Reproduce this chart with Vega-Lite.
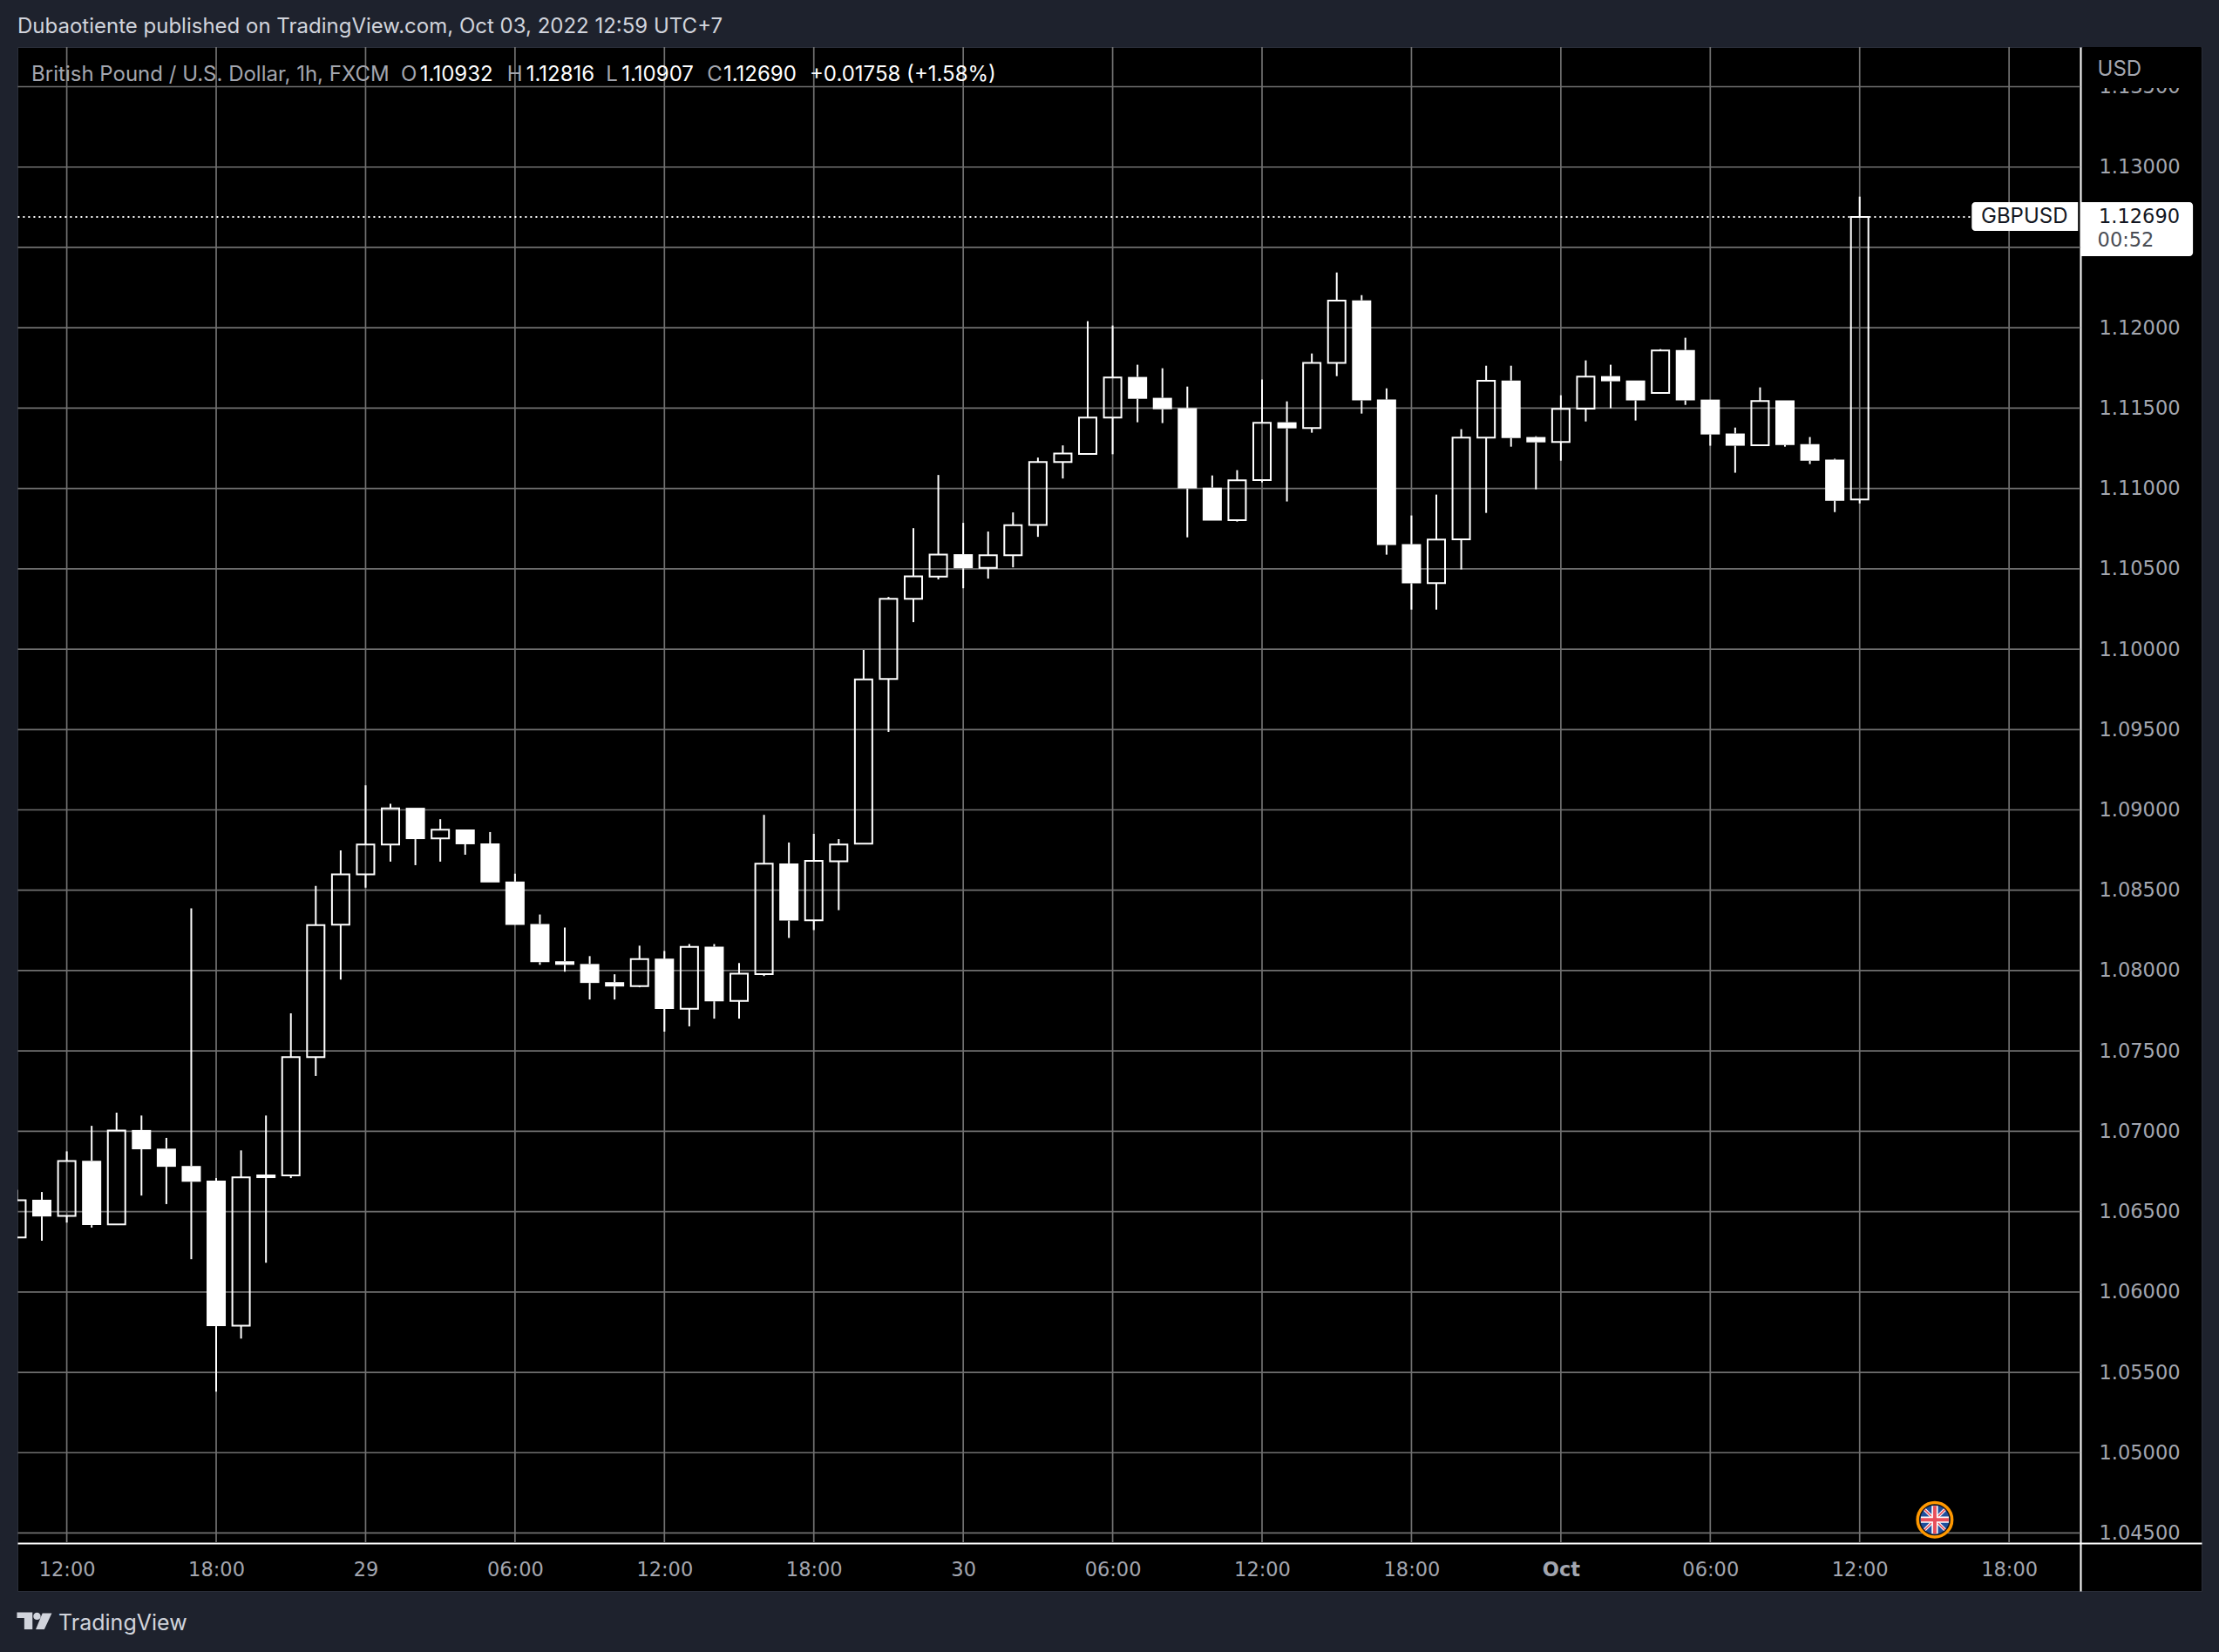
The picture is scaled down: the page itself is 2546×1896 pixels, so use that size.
{"$schema":"https://vega.github.io/schema/vega-lite/v6.json","width":2506,"height":1772,"autosize":"none","padding":{"left":20,"top":54,"right":20,"bottom":70},"background":"#1e222d","title":{"text":"Dubaotiente published on TradingView.com, Oct 03, 2022 12:59 UTC+7","anchor":"start","frame":"group","font":"Inter","fontSize":24,"fontWeight":400,"color":"#d1d4dc","offset":10},"config":{"view":{"fill":"#000000","stroke":"#2a2e39"},"font":"Inter"},"datasets":{"candles":[
{"t":"2022-09-28T10:00:00Z","open":1.06339,"high":1.06636,"low":1.06339,"close":1.06571},
{"t":"2022-09-28T11:00:00Z","open":1.06574,"high":1.06622,"low":1.06319,"close":1.0647},
{"t":"2022-09-28T12:00:00Z","open":1.06474,"high":1.06875,"low":1.06432,"close":1.06815},
{"t":"2022-09-28T13:00:00Z","open":1.06817,"high":1.07034,"low":1.06401,"close":1.06416},
{"t":"2022-09-28T14:00:00Z","open":1.06421,"high":1.07116,"low":1.0642,"close":1.07005},
{"t":"2022-09-28T15:00:00Z","open":1.07008,"high":1.07098,"low":1.066,"close":1.06888},
{"t":"2022-09-28T16:00:00Z","open":1.06892,"high":1.06959,"low":1.06547,"close":1.06779},
{"t":"2022-09-28T17:00:00Z","open":1.06784,"high":1.08387,"low":1.06204,"close":1.06686},
{"t":"2022-09-28T18:00:00Z","open":1.06693,"high":1.06709,"low":1.0538,"close":1.05787},
{"t":"2022-09-28T19:00:00Z","open":1.0579,"high":1.06881,"low":1.0571,"close":1.06713},
{"t":"2022-09-28T20:00:00Z","open":1.06731,"high":1.07098,"low":1.06182,"close":1.06709},
{"t":"2022-09-28T21:00:00Z","open":1.06726,"high":1.07734,"low":1.06709,"close":1.07462},
{"t":"2022-09-28T22:00:00Z","open":1.07462,"high":1.08527,"low":1.07344,"close":1.08283},
{"t":"2022-09-28T23:00:00Z","open":1.08286,"high":1.08748,"low":1.07944,"close":1.08599},
{"t":"2022-09-29T00:00:00Z","open":1.08599,"high":1.09153,"low":1.08516,"close":1.08784},
{"t":"2022-09-29T01:00:00Z","open":1.08784,"high":1.09038,"low":1.08678,"close":1.09009},
{"t":"2022-09-29T02:00:00Z","open":1.09013,"high":1.09013,"low":1.08656,"close":1.08818},
{"t":"2022-09-29T03:00:00Z","open":1.08822,"high":1.08942,"low":1.08678,"close":1.08876},
{"t":"2022-09-29T04:00:00Z","open":1.08878,"high":1.08878,"low":1.08721,"close":1.08786},
{"t":"2022-09-29T05:00:00Z","open":1.08791,"high":1.08862,"low":1.08549,"close":1.08549},
{"t":"2022-09-29T06:00:00Z","open":1.08554,"high":1.08603,"low":1.08284,"close":1.08284},
{"t":"2022-09-29T07:00:00Z","open":1.0829,"high":1.08349,"low":1.08036,"close":1.08052},
{"t":"2022-09-29T08:00:00Z","open":1.08058,"high":1.08268,"low":1.07993,"close":1.08036},
{"t":"2022-09-29T09:00:00Z","open":1.08041,"high":1.0809,"low":1.0782,"close":1.07923},
{"t":"2022-09-29T10:00:00Z","open":1.07928,"high":1.07977,"low":1.0782,"close":1.07901},
{"t":"2022-09-29T11:00:00Z","open":1.07903,"high":1.08155,"low":1.07896,"close":1.08072},
{"t":"2022-09-29T12:00:00Z","open":1.08074,"high":1.08122,"low":1.0762,"close":1.07761},
{"t":"2022-09-29T13:00:00Z","open":1.07763,"high":1.08165,"low":1.07653,"close":1.08147},
{"t":"2022-09-29T14:00:00Z","open":1.08149,"high":1.08165,"low":1.07701,"close":1.07809},
{"t":"2022-09-29T15:00:00Z","open":1.07811,"high":1.08047,"low":1.07701,"close":1.0798},
{"t":"2022-09-29T16:00:00Z","open":1.07978,"high":1.08969,"low":1.07966,"close":1.08665},
{"t":"2022-09-29T17:00:00Z","open":1.08667,"high":1.08797,"low":1.08203,"close":1.08311},
{"t":"2022-09-29T18:00:00Z","open":1.08313,"high":1.08851,"low":1.08252,"close":1.08683},
{"t":"2022-09-29T19:00:00Z","open":1.0868,"high":1.08818,"low":1.08376,"close":1.08784},
{"t":"2022-09-29T20:00:00Z","open":1.0879,"high":1.09995,"low":1.0879,"close":1.09812},
{"t":"2022-09-29T21:00:00Z","open":1.09814,"high":1.10325,"low":1.09485,"close":1.10313},
{"t":"2022-09-29T22:00:00Z","open":1.10313,"high":1.10753,"low":1.10168,"close":1.10453},
{"t":"2022-09-29T23:00:00Z","open":1.10452,"high":1.11084,"low":1.10434,"close":1.10589},
{"t":"2022-09-30T00:00:00Z","open":1.10591,"high":1.10786,"low":1.10379,"close":1.10504},
{"t":"2022-09-30T01:00:00Z","open":1.10506,"high":1.10732,"low":1.10439,"close":1.10584},
{"t":"2022-09-30T02:00:00Z","open":1.10584,"high":1.10851,"low":1.10509,"close":1.10771},
{"t":"2022-09-30T03:00:00Z","open":1.10773,"high":1.11192,"low":1.10699,"close":1.11164},
{"t":"2022-09-30T04:00:00Z","open":1.11164,"high":1.11268,"low":1.11062,"close":1.11218},
{"t":"2022-09-30T05:00:00Z","open":1.11215,"high":1.12041,"low":1.11215,"close":1.11441},
{"t":"2022-09-30T06:00:00Z","open":1.11441,"high":1.12014,"low":1.11213,"close":1.1169},
{"t":"2022-09-30T07:00:00Z","open":1.11694,"high":1.1177,"low":1.11412,"close":1.11558},
{"t":"2022-09-30T08:00:00Z","open":1.11564,"high":1.11748,"low":1.11407,"close":1.11493},
{"t":"2022-09-30T09:00:00Z","open":1.11499,"high":1.11634,"low":1.10696,"close":1.11},
{"t":"2022-09-30T10:00:00Z","open":1.11005,"high":1.11081,"low":1.108,"close":1.108},
{"t":"2022-09-30T11:00:00Z","open":1.10803,"high":1.11114,"low":1.10794,"close":1.11051},
{"t":"2022-09-30T12:00:00Z","open":1.11052,"high":1.11678,"low":1.11038,"close":1.11408},
{"t":"2022-09-30T13:00:00Z","open":1.11412,"high":1.11542,"low":1.10919,"close":1.11374},
{"t":"2022-09-30T14:00:00Z","open":1.11376,"high":1.1184,"low":1.11347,"close":1.11782},
{"t":"2022-09-30T15:00:00Z","open":1.11782,"high":1.12344,"low":1.11699,"close":1.12169},
{"t":"2022-09-30T16:00:00Z","open":1.12171,"high":1.12203,"low":1.11466,"close":1.11548},
{"t":"2022-09-30T17:00:00Z","open":1.11553,"high":1.11623,"low":1.10588,"close":1.10648},
{"t":"2022-09-30T18:00:00Z","open":1.10653,"high":1.10832,"low":1.10246,"close":1.10409},
{"t":"2022-09-30T19:00:00Z","open":1.10411,"high":1.10962,"low":1.10246,"close":1.10682},
{"t":"2022-09-30T20:00:00Z","open":1.10684,"high":1.11369,"low":1.10496,"close":1.11316},
{"t":"2022-09-30T21:00:00Z","open":1.11316,"high":1.11764,"low":1.10848,"close":1.1167},
{"t":"2022-09-30T22:00:00Z","open":1.11672,"high":1.11764,"low":1.1126,"close":1.11314},
{"t":"2022-09-30T23:00:00Z","open":1.1132,"high":1.11325,"low":1.10995,"close":1.11287},
{"t":"2022-10-01T00:00:00Z","open":1.11289,"high":1.1158,"low":1.11173,"close":1.11495},
{"t":"2022-10-01T01:00:00Z","open":1.11497,"high":1.11797,"low":1.11417,"close":1.11696},
{"t":"2022-10-01T02:00:00Z","open":1.11699,"high":1.1177,"low":1.11499,"close":1.11667},
{"t":"2022-10-01T03:00:00Z","open":1.11672,"high":1.11672,"low":1.11423,"close":1.11548},
{"t":"2022-10-01T04:00:00Z","open":1.11595,"high":1.11867,"low":1.11595,"close":1.11858},
{"t":"2022-10-01T05:00:00Z","open":1.11862,"high":1.11938,"low":1.1152,"close":1.11548},
{"t":"2022-10-01T06:00:00Z","open":1.11553,"high":1.11553,"low":1.11266,"close":1.11336},
{"t":"2022-10-01T07:00:00Z","open":1.11342,"high":1.11379,"low":1.11098,"close":1.11266},
{"t":"2022-10-01T08:00:00Z","open":1.11269,"high":1.11629,"low":1.11269,"close":1.11544},
{"t":"2022-10-01T09:00:00Z","open":1.11548,"high":1.11548,"low":1.1126,"close":1.11271},
{"t":"2022-10-01T10:00:00Z","open":1.11276,"high":1.1132,"low":1.11152,"close":1.11173},
{"t":"2022-10-01T11:00:00Z","open":1.11179,"high":1.11185,"low":1.10853,"close":1.10924},
{"t":"2022-10-01T12:00:00Z","open":1.10932,"high":1.12816,"low":1.10907,"close":1.1269}
]},
"encoding":{"x":{"field":"t","type":"temporal","title":null,"scale":{"type":"utc","nice":false,"padding":0,"domain":[1664359268400,1664675028000]},"axis":{"orient":"bottom","offset":-55,"values":[1664366400000,1664388000000,1664409600000,1664431200000,1664452800000,1664474400000,1664496000000,1664517600000,1664539200000,1664560800000,1664582400000,1664604000000,1664625600000,1664647200000],"grid":false,"ticks":false,"domain":true,"domainColor":"#ffffff","domainWidth":2,"labelFont":"DejaVu Sans","labelFontSize":22.5,"labelColor":"#a3a6af","labelPadding":19,"labelFlush":false,"labelOverlap":false,"labelExpr":"utchours(datum.value)==0 ? (utcdate(datum.value)==1 ? 'Oct' : utcFormat(datum.value,'%-d')) : utcFormat(datum.value,'%H:%M')","labelFontWeight":{"expr":"utcdate(datum.value)==1 && utchours(datum.value)==0 ? 700 : 400"}}},
"y":{"field":"p","type":"quantitative","title":null,"scale":{"domain":[1.041393,1.137468],"nice":false,"zero":false},"axis":{"orient":"right","offset":-139,"values":[1.045,1.05,1.055,1.06,1.065,1.07,1.075,1.08,1.085,1.09,1.095,1.1,1.105,1.11,1.115,1.12,1.125,1.13,1.135],"format":".5f","grid":false,"ticks":false,"domain":true,"domainColor":"#ffffff","domainWidth":2,"labelFont":"DejaVu Sans","labelFontSize":22.5,"labelColor":"#a3a6af","labelPadding":21,"labelAlign":"left","labelBound":false,"labelOverlap":false}}},
"layer":[
{"data":{"values":[{"t":"2022-09-28T10:02:00Z","t2":"2022-10-01T20:52:00Z","p":1.045},{"t":"2022-09-28T10:02:00Z","t2":"2022-10-01T20:52:00Z","p":1.05},{"t":"2022-09-28T10:02:00Z","t2":"2022-10-01T20:52:00Z","p":1.055},{"t":"2022-09-28T10:02:00Z","t2":"2022-10-01T20:52:00Z","p":1.06},{"t":"2022-09-28T10:02:00Z","t2":"2022-10-01T20:52:00Z","p":1.065},{"t":"2022-09-28T10:02:00Z","t2":"2022-10-01T20:52:00Z","p":1.07},{"t":"2022-09-28T10:02:00Z","t2":"2022-10-01T20:52:00Z","p":1.075},{"t":"2022-09-28T10:02:00Z","t2":"2022-10-01T20:52:00Z","p":1.08},{"t":"2022-09-28T10:02:00Z","t2":"2022-10-01T20:52:00Z","p":1.085},{"t":"2022-09-28T10:02:00Z","t2":"2022-10-01T20:52:00Z","p":1.09},{"t":"2022-09-28T10:02:00Z","t2":"2022-10-01T20:52:00Z","p":1.095},{"t":"2022-09-28T10:02:00Z","t2":"2022-10-01T20:52:00Z","p":1.1},{"t":"2022-09-28T10:02:00Z","t2":"2022-10-01T20:52:00Z","p":1.105},{"t":"2022-09-28T10:02:00Z","t2":"2022-10-01T20:52:00Z","p":1.11},{"t":"2022-09-28T10:02:00Z","t2":"2022-10-01T20:52:00Z","p":1.115},{"t":"2022-09-28T10:02:00Z","t2":"2022-10-01T20:52:00Z","p":1.12},{"t":"2022-09-28T10:02:00Z","t2":"2022-10-01T20:52:00Z","p":1.125},{"t":"2022-09-28T10:02:00Z","t2":"2022-10-01T20:52:00Z","p":1.13},{"t":"2022-09-28T10:02:00Z","t2":"2022-10-01T20:52:00Z","p":1.135}]},"mark":{"type":"rule","stroke":"#707070","strokeWidth":1.7},"encoding":{"x2":{"field":"t2"}}},
{"data":{"values":[{"t":"2022-09-28T12:00:00Z","p":1.044376,"p2":1.137468},{"t":"2022-09-28T18:00:00Z","p":1.044376,"p2":1.137468},{"t":"2022-09-29T00:00:00Z","p":1.044376,"p2":1.137468},{"t":"2022-09-29T06:00:00Z","p":1.044376,"p2":1.137468},{"t":"2022-09-29T12:00:00Z","p":1.044376,"p2":1.137468},{"t":"2022-09-29T18:00:00Z","p":1.044376,"p2":1.137468},{"t":"2022-09-30T00:00:00Z","p":1.044376,"p2":1.137468},{"t":"2022-09-30T06:00:00Z","p":1.044376,"p2":1.137468},{"t":"2022-09-30T12:00:00Z","p":1.044376,"p2":1.137468},{"t":"2022-09-30T18:00:00Z","p":1.044376,"p2":1.137468},{"t":"2022-10-01T00:00:00Z","p":1.044376,"p2":1.137468},{"t":"2022-10-01T06:00:00Z","p":1.044376,"p2":1.137468},{"t":"2022-10-01T12:00:00Z","p":1.044376,"p2":1.137468},{"t":"2022-10-01T18:00:00Z","p":1.044376,"p2":1.137468}]},"mark":{"type":"rule","stroke":"#707070","strokeWidth":1.7},"encoding":{"y2":{"field":"p2"}}},
{"data":{"values":[{"t":"2022-09-28T10:02:00Z","t2":"2022-10-01T16:30:00Z","p":1.1269}]},"mark":{"type":"rule","stroke":"#ffffff","strokeWidth":2,"strokeDash":[2,4]},"encoding":{"x2":{"field":"t2"}}},
{"data":{"name":"candles"},"transform":[{"filter":"datum.close>datum.open"}],"mark":{"type":"rule","stroke":"#ffffff","strokeWidth":2,"clip":true},"encoding":{"y":{"field":"high","type":"quantitative","scale":{"domain":[1.041393,1.137468],"nice":false,"zero":false}},"y2":{"field":"close"}}},
{"data":{"name":"candles"},"transform":[{"filter":"datum.close>datum.open"}],"mark":{"type":"rule","stroke":"#ffffff","strokeWidth":2,"clip":true},"encoding":{"y":{"field":"low","type":"quantitative","scale":{"domain":[1.041393,1.137468],"nice":false,"zero":false}},"y2":{"field":"open"}}},
{"data":{"name":"candles"},"transform":[{"filter":"datum.close<=datum.open"}],"mark":{"type":"rule","stroke":"#ffffff","strokeWidth":2,"clip":true},"encoding":{"y":{"field":"high","type":"quantitative","scale":{"domain":[1.041393,1.137468],"nice":false,"zero":false}},"y2":{"field":"open"}}},
{"data":{"name":"candles"},"transform":[{"filter":"datum.close<=datum.open"}],"mark":{"type":"rule","stroke":"#ffffff","strokeWidth":2,"clip":true},"encoding":{"y":{"field":"low","type":"quantitative","scale":{"domain":[1.041393,1.137468],"nice":false,"zero":false}},"y2":{"field":"close"}}},
{"data":{"name":"candles"},"transform":[{"filter":"datum.close>datum.open"}],"mark":{"type":"bar","size":20,"fill":"transparent","stroke":"#ffffff","strokeWidth":2,"clip":true},"encoding":{"y":{"field":"open","type":"quantitative","scale":{"domain":[1.041393,1.137468],"nice":false,"zero":false}},"y2":{"field":"close"}}},
{"data":{"name":"candles"},"transform":[{"filter":"datum.close<=datum.open"}],"mark":{"type":"bar","size":22,"fill":"#ffffff","clip":true},"encoding":{"y":{"field":"open","type":"quantitative","scale":{"domain":[1.041393,1.137468],"nice":false,"zero":false}},"y2":{"field":"close"}}},
{"data":{"values":[{"t":"2022-10-01T20:57:00Z","t2":"2022-10-02T01:43:00Z","p":1.134919,"p2":1.137468}]},"mark":{"type":"rect","fill":"#000000"},"encoding":{"x2":{"field":"t2"},"y2":{"field":"p2"}}},
{"data":{"values":[{"t":"2022-10-01T21:33:00Z","p":1.136058,"label":"USD"}]},"mark":{"type":"text","align":"left","baseline":"middle","font":"Inter","fontSize":24,"fill":"#a3a6af"},"encoding":{"text":{"field":"label"}}},
{"data":{"values":[{"t":"2022-10-01T16:30:00Z","t2":"2022-10-01T20:46:00Z","p":1.127814,"p2":1.126025}]},"mark":{"type":"rect","fill":"#ffffff","cornerRadiusTopLeft":4,"cornerRadiusBottomLeft":4},"encoding":{"x2":{"field":"t2"},"y2":{"field":"p2"}}},
{"data":{"values":[{"t":"2022-10-01T20:54:00Z","t2":"2022-10-02T01:23:00Z","p":1.127814,"p2":1.124452}]},"mark":{"type":"rect","fill":"#ffffff","cornerRadiusTopRight":4,"cornerRadiusBottomRight":4},"encoding":{"x2":{"field":"t2"},"y2":{"field":"p2"}}},
{"data":{"values":[{"t":"2022-10-01T18:37:00Z","p":1.1269,"label":"GBPUSD"}]},"mark":{"type":"text","align":"center","baseline":"middle","font":"Inter","fontSize":24,"fill":"#131722"},"encoding":{"text":{"field":"label"}}},
{"data":{"values":[{"t":"2022-10-01T21:36:00Z","p":1.1269,"label":"1.12690"}]},"mark":{"type":"text","align":"left","baseline":"middle","font":"DejaVu Sans","fontSize":22.5,"fill":"#131722"},"encoding":{"text":{"field":"label"}}},
{"data":{"values":[{"t":"2022-10-01T21:33:00Z","p":1.125412,"label":"00:52"}]},"mark":{"type":"text","align":"left","baseline":"middle","font":"DejaVu Sans","fontSize":22.5,"fill":"#4a4d55"},"encoding":{"text":{"field":"label"}}},
{"data":{"values":[{"t":"2022-09-28T10:35:00Z","p":1.135732,"label":"British Pound / U.S. Dollar, 1h, FXCM"},{"t":"2022-09-29T01:25:00Z","p":1.135732,"label":"O"},{"t":"2022-09-29T05:41:00Z","p":1.135732,"label":"H"},{"t":"2022-09-29T09:39:00Z","p":1.135732,"label":"L"},{"t":"2022-09-29T13:43:00Z","p":1.135732,"label":"C"}]},"mark":{"type":"text","align":"left","baseline":"middle","font":"Inter","fontSize":24,"fill":"#a3a6af"},"encoding":{"text":{"field":"label"}}},
{"data":{"values":[{"t":"2022-09-29T02:11:00Z","p":1.135732,"label":"1.10932"},{"t":"2022-09-29T06:27:00Z","p":1.135732,"label":"1.12816"},{"t":"2022-09-29T10:17:00Z","p":1.135732,"label":"1.10907"},{"t":"2022-09-29T14:22:00Z","p":1.135732,"label":"1.12690"},{"t":"2022-09-29T17:50:00Z","p":1.135732,"label":"+0.01758 (+1.58%)"}]},"mark":{"type":"text","align":"left","baseline":"middle","font":"Inter","fontSize":24,"fill":"#ffffff"},"encoding":{"text":{"field":"label"}}},
{"data":{"values":[{"t":"2022-10-01T15:01:00Z","p":1.04583}]},"mark":{"type":"point","shape":"circle","size":1560,"filled":true,"fill":"#131722","stroke":"#ff9800","strokeWidth":3.5,"opacity":1}},
{"data":{"values":[{"t":"2022-10-01T15:01:00Z","p":1.04583}]},"mark":{"type":"point","shape":"circle","size":1089,"filled":true,"fill":"#1f4e9c","opacity":1}},
{"data":{"values":[{"t":"2022-10-01T15:01:00Z","p":1.04583}]},"mark":{"type":"point","shape":"M-.78 -.62L-.62 -.78L.78 .62L.62 .78Z M.62 -.78L.78 -.62L-.62 .78L-.78 .62Z","size":1089,"filled":true,"fill":"#ffffff","opacity":1}},
{"data":{"values":[{"t":"2022-10-01T15:01:00Z","p":1.04583}]},"mark":{"type":"point","shape":"M-.75 -.68L-.68 -.75L.75 .68L.68 .75Z M.68 -.75L.75 -.68L-.68 .75L-.75 .68Z","size":1089,"filled":true,"fill":"#e8505b","opacity":1}},
{"data":{"values":[{"t":"2022-10-01T15:01:00Z","p":1.04583}]},"mark":{"type":"point","shape":"M-.22 -.97H.22V.97H-.22Z M-.97 -.22H.97V.22H-.97Z","size":1089,"filled":true,"fill":"#ffffff","opacity":1}},
{"data":{"values":[{"t":"2022-10-01T15:01:00Z","p":1.04583}]},"mark":{"type":"point","shape":"M-.12 -.97H.12V.97H-.12Z M-.97 -.12H.97V.12H-.97Z","size":1089,"filled":true,"fill":"#e8505b","opacity":1}},
{"data":{"values":[{"t":"2022-09-28T10:42:00Z","p":1.039523}]},"mark":{"type":"point","shape":"M-1 -.5H-.11V.47H-.58V-.17H-1Z M.46 -.45L1 -.45L.57 .47L.08 .47Z M-.06 -.28A.21 .21 0 1 0 .36 -.28A.21 .21 0 1 0 -.06 -.28Z","size":1600,"filled":true,"fill":"#d1d4dc","opacity":1}},
{"data":{"values":[{"t":"2022-09-28T11:40:00Z","p":1.03937,"label":"TradingView"}]},"mark":{"type":"text","align":"left","baseline":"middle","font":"Inter","fontSize":25,"fill":"#d1d4dc"},"encoding":{"text":{"field":"label"}}}
]}
